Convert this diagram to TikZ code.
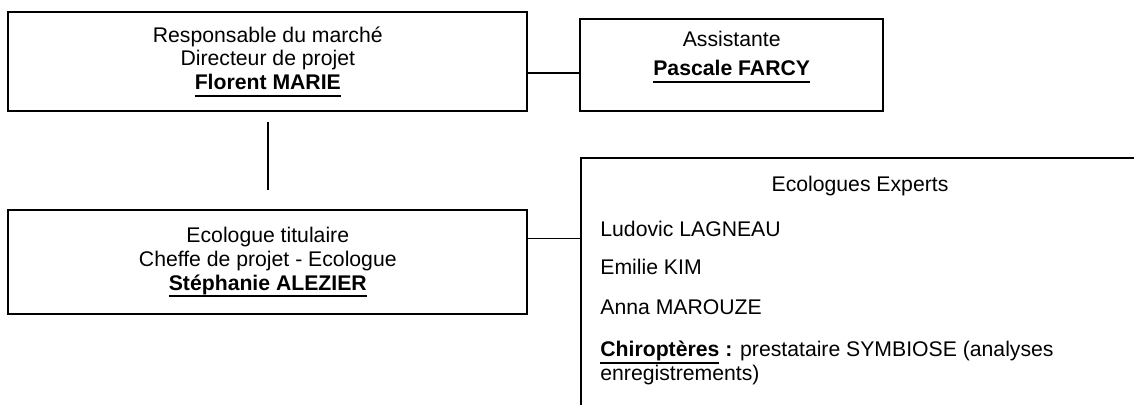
\documentclass[tikz,border=0pt]{standalone}
\usepackage{fontspec}
\setmainfont{Liberation Sans}
\usepackage{tikz}
\newcommand{\souligne}[1]{\setbox0\hbox{#1}\rlap{\rule[-3.6pt]{\wd0}{0.9pt}}\box0\relax}

\begin{document}
\begin{tikzpicture}[x=5pt,y=5pt]
          \tikzstyle{every node}+=[inner sep=0pt, font=\fontsize{10.6}{11.8}\selectfont]
          \tikzstyle{boite}=[draw=black, line width=1pt, align=center]
          \tikzstyle{lien}=[draw=black, line width=0.8pt]
          \useasboundingbox (0,0) rectangle (113.4,-40.5);
          \clip (0,0) rectangle (113.4,-40.5);
          \node [boite, minimum width=259.5pt, minimum height=49.35pt] (marche) at (26.78,-6.17) {Responsable du march\'e\\Directeur de projet\\\souligne{\textbf{Florent MARIE}}};
          \node [boite, minimum width=151.35pt, minimum height=45.85pt] (assist) at (73.17,-6.52) {Assistante\\[3pt]\souligne{\textbf{Pascale FARCY}}\\\mbox{}};
          \node [boite, minimum width=259.5pt, minimum height=51.9pt] (ecologue) at (26.78,-26.24) {Ecologue titulaire\\Cheffe de projet - Ecologue\\\souligne{\textbf{St\'ephanie ALEZIER}}};
          \node [boite, anchor=north west, minimum width=300pt, minimum height=150pt] (experts) at (58.03,-15.7) {};
          \draw (86.0,-19.2) node [anchor=base] (titre) {Ecologues Experts};
          \draw (60.0,-23.67) node [anchor=base west] (lagneau) {Ludovic LAGNEAU};
          \draw (60.0,-27.5) node [anchor=base west] (kim) {Emilie KIM};
          \draw (60.0,-31.5) node [anchor=base west] (marouze) {Anna MAROUZE};
          \draw (60.0,-38.0) node [anchor=base west, align=left] (chiro) {\souligne{\textbf{Chiropt\`eres}} \textbf{:} prestataire SYMBIOSE (analyses\\enregistrements)};
          \draw [lien] ([yshift=-5.55pt]marche.east) -- ([yshift=-5.55pt]marche.east -| assist.west);
          \draw [lien] ([yshift=-4.85pt]marche.south) -- ([yshift=9.6pt]ecologue.north);
          \draw [lien] ([yshift=12pt]ecologue.east) -- ([yshift=12pt]ecologue.east -| experts.west);
\end{tikzpicture}
\end{document}
